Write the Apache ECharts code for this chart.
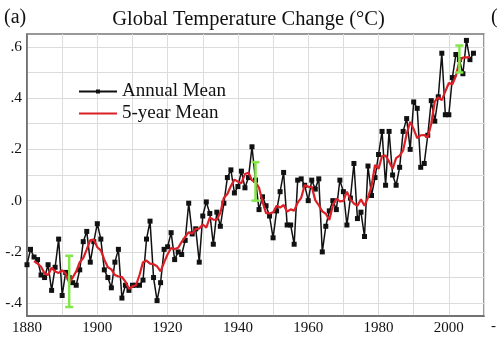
<!DOCTYPE html>
<html><head><meta charset="utf-8">
<script src="https://cdn.jsdelivr.net/npm/echarts@6/dist/echarts.min.js"></script>
<style>html,body{margin:0;padding:0;background:#fff}#c{width:499px;height:342px}</style>
</head><body><div id="c"></div>
<script>
// Annual mean, 1880..2007
const annualStart = 1880;
const annual = [
  -0.25,-0.19,-0.22,-0.23,-0.29,-0.30,-0.25,-0.35,-0.26,-0.15,
  -0.37,-0.28,-0.30,-0.32,-0.33,-0.27,-0.16,-0.12,-0.24,-0.16,
  -0.09,-0.15,-0.27,-0.30,-0.34,-0.24,-0.19,-0.38,-0.33,-0.35,
  -0.33,-0.33,-0.33,-0.31,-0.15,-0.08,-0.30,-0.39,-0.32,-0.19,
  -0.18,-0.125,-0.23,-0.20,-0.21,-0.155,-0.01,-0.13,-0.11,-0.24,
  -0.06,-0.005,-0.05,-0.17,-0.045,-0.10,-0.01,0.09,0.12,0.03,
  0.055,0.115,0.05,0.09,0.21,0.08,-0.035,0.015,-0.02,-0.06,
  -0.145,-0.04,0.035,0.11,-0.095,-0.095,-0.17,0.08,0.085,0.06,
  0.00,0.08,0.045,0.085,-0.20,-0.10,-0.04,0.00,-0.035,0.08,
  0.035,-0.095,0.01,0.145,-0.07,-0.045,-0.14,0.135,0.02,0.09,
  0.18,0.27,0.06,0.27,0.10,0.06,0.13,0.27,0.32,0.20,
  0.385,0.36,0.13,0.145,0.255,0.39,0.31,0.405,0.575,0.335,
  0.335,0.48,0.57,0.55,0.495,0.625,0.55,0.575
];
// 5-year mean, 1882..2006
const meanStart = 1882;
const fiveYear = [
  -0.236,-0.246,-0.258,-0.284,-0.29,-0.262,-0.276,-0.282,-0.272,-0.284,
  -0.32,-0.30,-0.276,-0.24,-0.224,-0.19,-0.154,-0.152,-0.182,-0.194,
  -0.23,-0.26,-0.268,-0.29,-0.296,-0.298,-0.316,-0.344,-0.334,-0.33,
  -0.29,-0.24,-0.234,-0.246,-0.248,-0.256,-0.276,-0.241,-0.209,-0.185,
  -0.189,-0.184,-0.161,-0.141,-0.123,-0.129,-0.11,-0.109,-0.093,-0.105,
  -0.066,-0.074,-0.075,-0.047,0.011,0.026,0.057,0.082,0.074,0.068,
  0.104,0.109,0.079,0.072,0.05,-0.004,-0.049,-0.05,-0.046,-0.02,
  -0.027,-0.017,-0.043,-0.034,-0.039,-0.008,0.011,0.061,0.054,0.054,
  0.002,-0.018,-0.042,-0.051,-0.075,-0.019,0.008,-0.003,-0.001,0.035,
  0.005,-0.011,-0.02,0.005,-0.02,0.012,0.057,0.139,0.124,0.174,
  0.176,0.152,0.124,0.166,0.176,0.196,0.261,0.307,0.279,0.244,
  0.255,0.256,0.246,0.301,0.387,0.403,0.392,0.426,0.459,0.454,
  0.486,0.544,0.558,0.559,0.56
];
// Uncertainty bars
const errYears = [1892, 1945, 2003];
const errLow   = [-0.415, 0.0, 0.50];
const errHigh  = [-0.215, 0.15, 0.605];
// Tick labels
const yLabelValues = [-0.4, -0.2, 0, 0.2, 0.4, 0.6];
const yLabelTexts  = ['-.4', '-.2', '.0', '.2', '.4', '.6'];
const xLabelYears  = [1880, 1900, 1920, 1940, 1960, 1980, 2000];

const SERIF = "'Liberation Serif','Times New Roman',serif";
const GREEN = '#84e64a';

const annualData = annual.map((v, i) => [annualStart + i, v]);
const meanData = fiveYear.map((v, i) => [meanStart + i, v]);
const errData = errYears.map((y, i) => [y, errLow[i], errHigh[i]]);

const chart = echarts.init(document.getElementById('c'), null, {renderer: 'canvas'});
chart.setOption({
  animation: false,
  backgroundColor: '#fff',
  textStyle: {fontFamily: SERIF},
  grid: {left: 27, right: 15, top: 34, bottom: 26, show: true, borderColor: '#777', borderWidth: 1.5, backgroundColor: 'transparent'},
  graphic: [
    {type: 'text', left: 4, top: 8, style: {text: '(a)', font: '20px ' + SERIF, fill: '#111'}},
    {type: 'text', x: 248.5, y: 9, style: {text: 'Global Temperature Change (°C)', font: '20.5px ' + SERIF, fill: '#111', textAlign: 'center'}},
    {type: 'text', x: 491, y: 8, style: {text: '(', font: '20px ' + SERIF, fill: '#111'}},
    {type: 'text', x: 491, y: 319, style: {text: '-', font: '15px ' + SERIF, fill: '#111'}}
  ],
  legend: {
    orient: 'vertical', left: 73, top: 77, itemWidth: 38, itemHeight: 5, itemGap: 3,
    data: ['Annual Mean', {name: '5-year Mean', itemStyle: {opacity: 0}}],
    textStyle: {fontFamily: SERIF, fontSize: 19, color: '#111'}
  },
  xAxis: {
    type: 'value', min: 1880, max: 2010, interval: 10,
    axisLine: {show: true, onZero: false, lineStyle: {color: '#666', width: 1.5}},
    axisTick: {show: false},
    axisLabel: {margin: 5, color: '#111', fontFamily: SERIF, fontSize: 15,
      formatter: v => xLabelYears.indexOf(Math.round(v)) >= 0 ? String(Math.round(v)) : ''},
    splitLine: {show: true, lineStyle: {color: '#dcdcdc', width: 1}}
  },
  yAxis: {
    type: 'value', min: -0.45, max: 0.65, interval: 0.05,
    axisLine: {show: true, onZero: false, lineStyle: {color: '#666', width: 1.5}},
    axisTick: {show: false},
    axisLabel: {margin: 5, color: '#111', fontFamily: SERIF, fontSize: 15.5,
      formatter: v => {
        const k = yLabelValues.findIndex(t => Math.abs(t - v) < 1e-6);
        return k >= 0 ? yLabelTexts[k] : '';
      }},
    splitLine: {show: true, lineStyle: {color: ['rgba(0,0,0,0)', '#dcdcdc'], width: 1}}
  },
  series: [
    {
      name: 'Annual Mean', type: 'line', data: annualData, z: 3,
      symbol: 'rect', symbolSize: 5, showAllSymbol: true,
      lineStyle: {color: '#111', width: 1.5}, itemStyle: {color: '#111'}
    },
    {
      name: '5-year Mean', type: 'line', data: meanData, z: 4,
      symbol: 'none', lineStyle: {color: '#dc1f26', width: 2.2}, itemStyle: {color: '#dc1f26'}
    },
    {
      name: 'err', type: 'custom', z: 5, data: errData,
      encode: {x: 0, y: [1, 2]},
      renderItem: (params, api) => {
        const x = api.value(0);
        const p1 = api.coord([x, api.value(1)]);
        const p2 = api.coord([x, api.value(2)]);
        const w = 4;
        const style = {stroke: GREEN, lineWidth: 2.5};
        return {type: 'group', children: [
          {type: 'line', shape: {x1: p1[0], y1: p1[1], x2: p2[0], y2: p2[1]}, style: style},
          {type: 'line', shape: {x1: p1[0] - w, y1: p1[1], x2: p1[0] + w, y2: p1[1]}, style: style},
          {type: 'line', shape: {x1: p2[0] - w, y1: p2[1], x2: p2[0] + w, y2: p2[1]}, style: style}
        ]};
      }
    }
  ]
});
</script>
</body></html>
